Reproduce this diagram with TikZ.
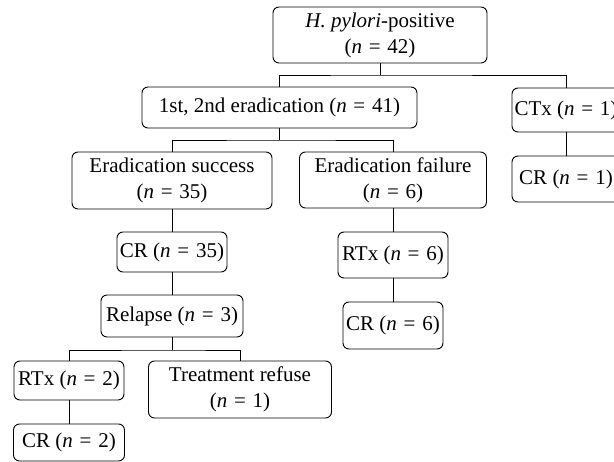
\documentclass[tikz,border=0pt]{standalone}
\usepackage{fontspec}
\setmainfont{Liberation Serif}
\begin{document}
\begin{tikzpicture}[x=1pt,y=-1pt,
  box/.style={draw=black,line width=0.9pt,rounded corners=6pt,inner sep=0pt,align=center,
    font=\fontsize{21}{26}\selectfont},
  link/.style={draw=black,line width=0.9pt}]
\useasboundingbox (0,0) rectangle (614,462);
\clip (0,0) rectangle (614,462);
\newcommand{\nn}[1]{(\textit{n}\hspace{0.32em}=\hspace{0.32em}#1)}
\node[box,minimum width=214pt,minimum height=56pt] (top) at (380,35) {\textit{H. pylori}-positive\\\nn{42}};
\node[box,minimum width=275pt,minimum height=41pt] (first) at (279.5,107.5) {1st, 2nd eradication \nn{41}};
\node[box,minimum width=108pt,minimum height=44pt] (ctx) at (566,110) {CTx \nn{1}};
\node[box,minimum width=108pt,minimum height=46pt] (cr1) at (566,179) {CR \nn{1}};
\node[box,minimum width=200pt,minimum height=57pt] (success) at (172,180.5) {Eradication success\\\nn{35}};
\node[box,minimum width=187pt,minimum height=56pt] (failure) at (393,180) {Eradication failure\\\nn{6}};
\node[box,minimum width=110pt,minimum height=40pt] (cr35) at (172,252) {CR \nn{35}};
\node[box,minimum width=142pt,minimum height=42pt] (relapse) at (172,316) {Relapse \nn{3}};
\node[box,minimum width=110pt,minimum height=46pt] (rtx6) at (393,255) {RTx \nn{6}};
\node[box,minimum width=100pt,minimum height=47pt] (cr6) at (393,325.5) {CR \nn{6}};
\node[box,minimum width=110pt,minimum height=39pt] (rtx2) at (69,380.5) {RTx \nn{2}};
\node[box,minimum width=183pt,minimum height=57pt] (refuse) at (240,389.5) {Treatment refuse\\\nn{1}};
\node[box,minimum width=111pt,minimum height=37pt] (cr2) at (69,442.5) {CR \nn{2}};
\coordinate (j1) at (380,75);
\coordinate (j2) at (279.5,140);
\coordinate (j3) at (172,350);
\draw[link] (top.south) -- (j1);
\draw[link] (first.north) |- (j1) -| (ctx.north);
\draw[link] (first.south) -- (j2);
\draw[link] (success.north) |- (j2) -| (failure.north);
\draw[link] (success.south) -- (cr35.north);
\draw[link] (cr35.south) -- (relapse.north);
\draw[link] (relapse.south) -- (j3);
\draw[link] (rtx2.north) |- (j3) -| (refuse.north);
\draw[link] (rtx2.south) -- (cr2.north);
\draw[link] (failure.south) -- (rtx6.north);
\draw[link] (rtx6.south) -- (cr6.north);
\draw[link] (ctx.south) -- (cr1.north);
\end{tikzpicture}
\end{document}
